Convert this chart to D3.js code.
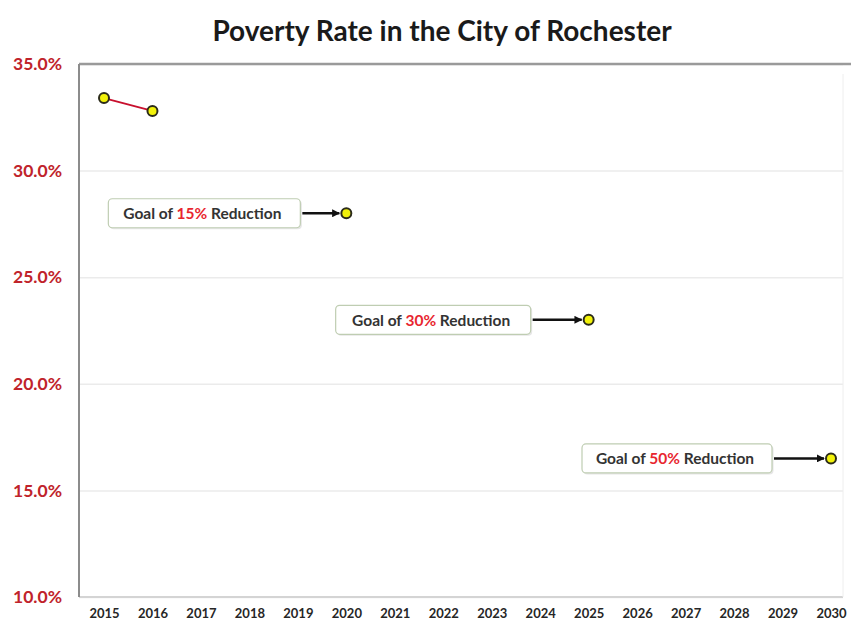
<!DOCTYPE html>
<html>
<head>
<meta charset="utf-8">
<script src="https://cdn.jsdelivr.net/npm/d3@7"></script>
<style>
  html, body { margin: 0; padding: 0; background: #fff; }
  svg { display: block; }
</style>
</head>
<body>
<svg id="chart" width="851" height="621"></svg>
<script>
// Observed poverty rate (%)
const actualYears = [2015, 2016];
const actualValues = [33.4, 32.8];

// Reduction goals (%)
const goalYears = [2020, 2025, 2030];
const goalValues = [28.0, 23.0, 16.5];
const goalLabels = ["15%", "30%", "50%"];

// Axis categories and ticks
const years = d3.range(2015, 2031);
const yTicks = [10, 15, 20, 25, 30, 35];

const chartTitle = "Poverty Rate in the City of Rochester";

const svg = d3.select("#chart");
const W = 851, H = 621;
const plot = { left: 79, right: 843, top: 64, bottom: 597 };

const x = d3.scalePoint().domain(years).range([104, 831]);
const y = d3.scaleLinear().domain([10, 35]).range([plot.bottom, plot.top]);

// Title
svg.append("text")
  .attr("x", 442).attr("y", 41)
  .attr("text-anchor", "middle")
  .style("font-family", "Lato, 'Open Sans', sans-serif")
  .style("font-weight", "bold")
  .style("font-size", "28px")
  .style("fill", "#1a1a1a")
  .text(chartTitle);

// Horizontal gridlines
const yAxis = d3.axisLeft(y).tickValues(yTicks)
  .tickSize(-(plot.right - plot.left))
  .tickPadding(17)
  .tickFormat(d => d3.format(".1f")(d) + "%");

const gy = svg.append("g")
  .attr("transform", `translate(${plot.left},0)`)
  .call(yAxis);
gy.select(".domain").remove();
gy.selectAll(".tick line").attr("stroke", "#ebebeb").attr("stroke-width", 1.5);
gy.selectAll(".tick text")
  .style("font-family", "Lato, 'Open Sans', sans-serif")
  .style("font-weight", "bold")
  .style("font-size", "17.5px")
  .style("fill", "#c0232b");

// Bottom axis line
svg.append("line")
  .attr("x1", plot.left).attr("x2", plot.right)
  .attr("y1", plot.bottom).attr("y2", plot.bottom)
  .attr("stroke", "#d4d4d4").attr("stroke-width", 2);

// Plot frame: top and left darker, right faint
svg.append("line")
  .attr("x1", plot.left).attr("x2", W)
  .attr("y1", plot.top).attr("y2", plot.top)
  .attr("stroke", "#9a9a9a").attr("stroke-width", 2.5);
svg.append("line")
  .attr("x1", plot.left).attr("x2", plot.left)
  .attr("y1", plot.top).attr("y2", plot.bottom)
  .attr("stroke", "#8c8c8c").attr("stroke-width", 2);
svg.append("line")
  .attr("x1", plot.right).attr("x2", plot.right)
  .attr("y1", plot.top + 10).attr("y2", plot.bottom)
  .attr("stroke", "#eeeeee").attr("stroke-width", 1);

// X axis labels
const xAxis = d3.axisBottom(x).tickSize(0).tickPadding(12);
const gx = svg.append("g")
  .attr("transform", `translate(0,${plot.bottom})`)
  .call(xAxis);
gx.select(".domain").remove();
gx.selectAll(".tick text")
  .style("font-family", "Lato, 'Open Sans', sans-serif")
  .style("font-weight", "bold")
  .style("font-size", "13px")
  .style("fill", "#262626");

// Arrow marker
svg.append("defs").append("marker")
  .attr("id", "arrowhead")
  .attr("viewBox", "0 0 10 10")
  .attr("refX", 9).attr("refY", 5)
  .attr("markerWidth", 3.2).attr("markerHeight", 3.2)
  .attr("markerUnits", "strokeWidth")
  .attr("orient", "auto")
  .append("path").attr("d", "M0,0 L10,5 L0,10 z").attr("fill", "#111");

// Actual series line
const line = d3.line().x(d => x(d[0])).y(d => y(d[1]));
const actual = actualYears.map((yr, i) => [yr, actualValues[i]]);
svg.append("path")
  .datum(actual)
  .attr("d", line)
  .attr("fill", "none")
  .attr("stroke", "#c8102e")
  .attr("stroke-width", 2);

// Goal annotations
const boxW = [192, 195, 190];
const boxGap = [46, 58, 59];
const boxH = 29;
const goals = goalYears.map((yr, i) => ({ yr, v: goalValues[i], label: goalLabels[i], w: boxW[i], gap: boxGap[i] }));

const ann = svg.append("g").selectAll("g").data(goals).join("g");
ann.each(function(d) {
  const g = d3.select(this);
  const px = x(d.yr), py = y(d.v);
  const bx = px - d.gap - d.w, by = py - boxH / 2;
  // shadow
  g.append("rect")
    .attr("x", bx + 1.5).attr("y", by + 1.5)
    .attr("width", d.w).attr("height", boxH)
    .attr("rx", 4)
    .attr("fill", "#e6e6e6");
  g.append("rect")
    .attr("x", bx).attr("y", by)
    .attr("width", d.w).attr("height", boxH)
    .attr("rx", 4)
    .attr("fill", "#fff")
    .attr("stroke", "#bfcdb2").attr("stroke-width", 1.2);
  const t = g.append("text")
    .attr("x", bx + d.w / 2 - 2).attr("y", py + 6)
    .attr("text-anchor", "middle")
    .style("font-family", "Lato, 'Open Sans', sans-serif")
    .style("font-weight", "bold")
    .style("font-size", "15.5px")
    .style("fill", "#333");
  t.append("tspan").text("Goal of ");
  t.append("tspan").style("fill", "#e8262f").text(d.label);
  t.append("tspan").text(" Reduction");
  g.append("line")
    .attr("x1", bx + d.w + 2).attr("x2", px - 7)
    .attr("y1", py).attr("y2", py)
    .attr("stroke", "#111").attr("stroke-width", 2.5)
    .attr("marker-end", "url(#arrowhead)");
});

// Point markers
const pts = actual.concat(goals.map(d => [d.yr, d.v]));
svg.append("g").selectAll("circle").data(pts).join("circle")
  .attr("cx", d => x(d[0])).attr("cy", d => y(d[1]))
  .attr("r", 5)
  .attr("fill", "#f2f20a")
  .attr("stroke", "#2b2b1a")
  .attr("stroke-width", 2);
</script>
</body>
</html>
